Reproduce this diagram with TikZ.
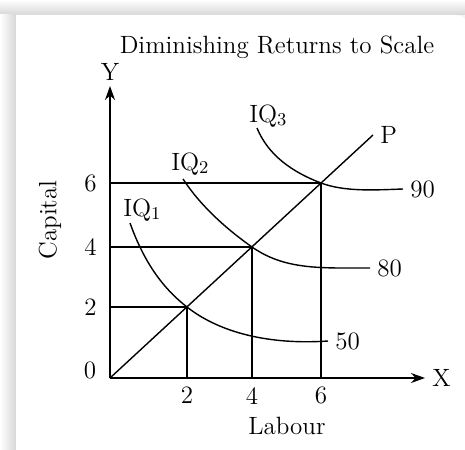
\documentclass[tikz,border=0pt]{standalone}
\usetikzlibrary{positioning, arrows.meta}
\begin{document}
\begin{tikzpicture}[>={Stealth[length=7pt, width=5pt]}, x=0.5pt, y=-0.5pt, line width=0.7pt,
    font=\fontsize{12.5}{14}\selectfont]
  \useasboundingbox (0,0) rectangle (465,449);
  % card with a soft shadow on top and left
  \fill[black!4] (0,0) rectangle (465,449);
  \shade[top color=white, bottom color=black!16, draw=none] (0,0) rectangle (465,15);
  \shade[left color=white, right color=black!16, draw=none] (0,15) rectangle (16,470);
  \fill[white] (16,470) -- (16,15) [rounded corners=6pt] -- (468,15) -- (468,470) -- cycle;
  \node (title) at (277,47) {Diminishing Returns to Scale};
  % axes
  \coordinate (O) at (110,378);
  \draw[->] (O) -- (425,378) node[right] (xlab) {X};
  \draw[->] (O) -- (110,86) node[above=-1pt] (ylab) {Y};
  \node[rotate=90] (cap) at (50,220) {Capital};
  \node (lab) at (287,426) {Labour};
  % points on the expansion path
  \coordinate (A) at (187,307);
  \coordinate (B) at (252,247);
  \coordinate (C) at (321,183);
  \foreach \pt/\v in {A/2, B/4, C/6} {
    \draw (\pt) -- (\pt |- O) node[below=1pt] (x\v) {\v};
    \draw (\pt) -- (\pt -| O) node[left=3pt] (y\v) {\v};
  }
  \node (y0) at (90,370) {0};
  \draw (O) -- (373,135) node[right] (p) {P};
  % isoquants
  \draw (130,223) .. controls (145,265) and (165,290) .. (A)
    .. controls (220,333) and (270,345) .. (328,341) node[right] (q50) {50};
  \draw (183,179) .. controls (200,205) and (225,228) .. (B)
    .. controls (285,270) and (320,268) .. (370,268) node[right] (q80) {80};
  \draw (257,128) .. controls (268,155) and (292,172) .. (C)
    .. controls (345,192) and (375,190) .. (403,189) node[right] (q90) {90};
  \node[anchor=west] (iq1) at (116,210) {IQ$_1$};
  \node[anchor=west] (iq2) at (164,164) {IQ$_2$};
  \node[anchor=west] (iq3) at (242,116) {IQ$_3$};
\end{tikzpicture}
\end{document}
